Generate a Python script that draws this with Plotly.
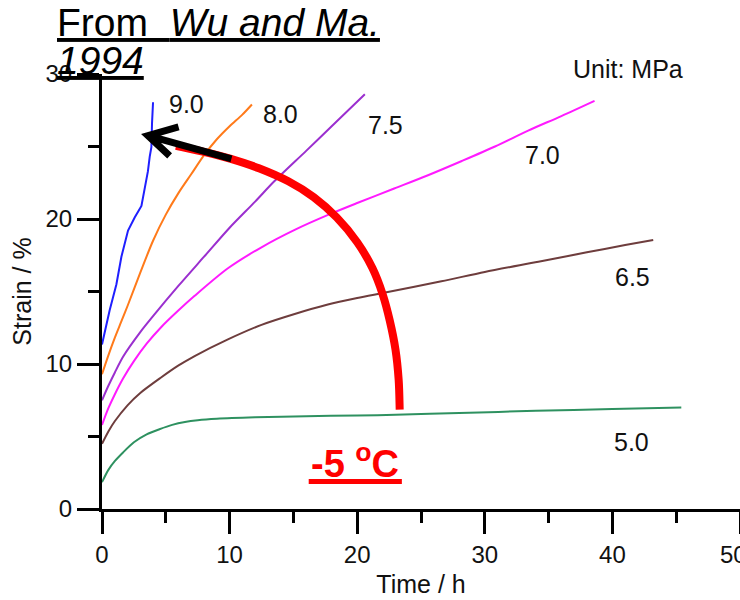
import plotly.graph_objects as go

# ---------------- data ----------------
time_90 = [0, 0.6, 1.13, 1.52, 2.04, 2.56, 3.09, 3.35, 3.6, 3.74, 3.87, 3.92, 4.0]
strain_90 = [11.35, 13.7, 15.5, 17.4, 19.2, 20.1, 20.9, 22.0, 23.3, 24.3, 24.95, 26.6, 28.05]

time_80 = [0, 0.5, 1, 1.5, 2, 3, 4, 5, 6, 7, 8, 9, 10, 11, 11.75]
strain_80 = [9.3, 10.6, 11.8, 12.9, 14.0, 16.3, 18.5, 20.3, 21.8, 23.1, 24.4, 25.5, 26.4, 27.2, 27.9]

time_75 = [0, 0.5, 1, 1.65, 3, 4, 6, 8, 10, 12, 13.5, 16, 18, 20.6]
strain_75 = [7.5, 8.5, 9.4, 10.5, 12.2, 13.3, 15.4, 17.4, 19.4, 21.2, 22.6, 24.7, 26.4, 28.6]

time_70 = [0, 0.5, 1, 1.65, 2.5, 3.5, 4.65, 6, 7.26, 9.87, 12.5, 15.1, 17.9, 20, 22.9,
           25.5, 28.2, 30.8, 33.4, 36, 38.6]
strain_70 = [5.8, 6.95, 7.9, 9.0, 10.2, 11.4, 12.55, 13.7, 14.7, 16.6, 18.05, 19.25, 20.35, 21.1, 22.1,
             23.0, 24.0, 25.0, 26.1, 27.1, 28.15]

time_65 = [0, 0.5, 1, 2, 3, 4.6, 6, 7.26, 9.87, 12.5, 15.1, 17.7, 20, 22, 26.6, 30, 34.2, 38, 41, 43.2]
strain_65 = [4.5, 5.35, 6.05, 7.15, 8.0, 9.05, 9.9, 10.55, 11.7, 12.7, 13.45, 14.1, 14.55, 14.9, 15.7,
             16.35, 17.05, 17.7, 18.2, 18.55]

time_50 = [0, 0.5, 1, 1.65, 2.5, 3.5, 4.5, 5.5, 6.5, 7.5, 9, 12, 16, 20, 23, 28, 34, 40, 45.4]
strain_50 = [1.85, 2.7, 3.3, 3.9, 4.6, 5.15, 5.5, 5.8, 6.0, 6.12, 6.22, 6.32, 6.4, 6.45, 6.5, 6.62,
             6.77, 6.9, 7.0]

stress_labels = ["9.0", "8.0", "7.5", "7.0", "6.5", "5.0"]
label_time = [6.6, 13.95, 22.2, 34.55, 41.6, 41.5]
label_strain = [27.95, 27.25, 26.5, 24.4, 16.0, 4.6]

x_ticks = [0, 10, 20, 30, 40, 50]
x_tick_text = ["0", "10", "20", "30", "40", "50\u00a0\u00a0"]
y_ticks = [0, 10, 20, 30]

# ---------------- figure ----------------
series = [
    (time_90, strain_90, "#1f1fff", "linear"),
    (time_80, strain_80, "#ff7a1a", "spline"),
    (time_75, strain_75, "#9b2fcf", "spline"),
    (time_70, strain_70, "#ff1aff", "spline"),
    (time_65, strain_65, "#6e3d3d", "spline"),
    (time_50, strain_50, "#2e9160", "spline"),
]

fig = go.Figure()
for t, s, c, shp in series:
    fig.add_trace(go.Scatter(x=t, y=s, mode="lines",
                             line=dict(color=c, width=2, shape=shp, smoothing=0.8),
                             showlegend=False, hoverinfo="skip"))

ML, MR, MT, MB = 102, 0, 74, 91
W, H = 740, 600
PW, PH = W - ML - MR, H - MT - MB


def pxx(px):
    return (px - ML) / PW


def pxy(py):
    return (H - MB - py) / PH


FONT = "Liberation Sans, Arial, sans-serif"

fig.update_layout(
    width=W, height=H,
    margin=dict(l=ML, r=MR, t=MT, b=MB, pad=0, autoexpand=False),
    plot_bgcolor="white", paper_bgcolor="white",
    font=dict(family=FONT, color="#111111"),
    showlegend=False,
)

axis_common = dict(
    showgrid=False, zeroline=False, showline=True, linecolor="black", linewidth=3,
    ticks="outside", ticklen=22, tickwidth=3, tickcolor="black",
    tickfont=dict(size=24, family=FONT, color="#111111"),
    ticklabeloverflow="allow",
)
fig.update_xaxes(range=[0, 50], tickvals=x_ticks, ticktext=x_tick_text, ticklabelstandoff=0,
                 minor=dict(dtick=5, tick0=0, ticks="outside", ticklen=11, tickwidth=3,
                            tickcolor="black", showgrid=False),
                 title=dict(text="Time / h", font=dict(size=25, family=FONT), standoff=9),
                 **axis_common)
fig.update_yaxes(range=[0, 30], tickvals=y_ticks, ticklabelstandoff=0,
                 minor=dict(dtick=5, tick0=0, ticks="outside", ticklen=11, tickwidth=3,
                            tickcolor="black", showgrid=False),
                 title=dict(text="Strain / %", font=dict(size=25, family=FONT), standoff=7),
                 **axis_common)

# curve labels
for lab, tx, sy in zip(stress_labels, label_time, label_strain):
    fig.add_annotation(x=tx, y=sy, text=lab, showarrow=False,
                       font=dict(size=25, family=FONT, color="#111111"),
                       xanchor="center", yanchor="middle")

fig.add_annotation(xref="paper", yref="paper", x=pxx(628), y=pxy(69), text="Unit: MPa",
                   showarrow=False, font=dict(size=25, family=FONT, color="#111111"),
                   xanchor="center", yanchor="middle")

# title (two lines)
fig.add_annotation(xref="paper", yref="paper", x=pxx(55), y=pxy(23),
                   text="<u>From  <i>Wu and Ma.</i></u>", showarrow=False,
                   font=dict(size=39, family=FONT, color="black"),
                   xanchor="left", yanchor="middle")
fig.add_annotation(xref="paper", yref="paper", x=pxx(55), y=pxy(60),
                   text="<u><i>1994</i></u>", showarrow=False,
                   font=dict(size=39, family=FONT, color="black"),
                   xanchor="left", yanchor="middle")

# temperature label
fig.add_annotation(x=19.8, y=3.3, text="<b>-5 <sup>o</sup>C</b>", showarrow=False,
                   font=dict(size=38, family=FONT, color="#ff0000"),
                   xanchor="center", yanchor="middle")
fig.add_shape(type="line", xref="x", yref="y", x0=16.2, x1=23.5, y0=1.9, y1=1.9,
              line=dict(color="#ff0000", width=5))

# curved arrow (decoration)
arc = [(23.33, 6.85), (23.25, 8.9), (23.0, 11.0), (22.55, 13.0), (22.0, 14.8), (21.2, 16.6),
       (20.0, 18.4), (18.4, 20.1), (16.6, 21.5), (14.6, 22.6), (12.3, 23.5), (10.1, 24.15),
       (7.9, 24.65), (5.8, 25.05)]


def smooth_path(pts):
    d = f"M {pts[0][0]},{pts[0][1]}"
    n = len(pts)
    for i in range(n - 1):
        p0 = pts[i - 1] if i > 0 else pts[i]
        p1 = pts[i]
        p2 = pts[i + 1]
        p3 = pts[i + 2] if i + 2 < n else pts[i + 1]
        c1 = (p1[0] + (p2[0] - p0[0]) / 6, p1[1] + (p2[1] - p0[1]) / 6)
        c2 = (p2[0] - (p3[0] - p1[0]) / 6, p2[1] - (p3[1] - p1[1]) / 6)
        d += f" C {c1[0]:.3f},{c1[1]:.3f} {c2[0]:.3f},{c2[1]:.3f} {p2[0]},{p2[1]}"
    return d


fig.add_shape(type="path", xref="x", yref="y", path=smooth_path(arc),
              line=dict(color="#ff0000", width=8))
fig.add_shape(type="path", xref="x", yref="y",
              path="M 10.14,24.15 L 3.6,25.75 M 6.0,26.35 L 3.6,25.75 L 5.3,24.35",
              line=dict(color="black", width=7))

fig.write_html("out.html", config={"displayModeBar": False},
               post_script="document.body.style.margin='0';")
